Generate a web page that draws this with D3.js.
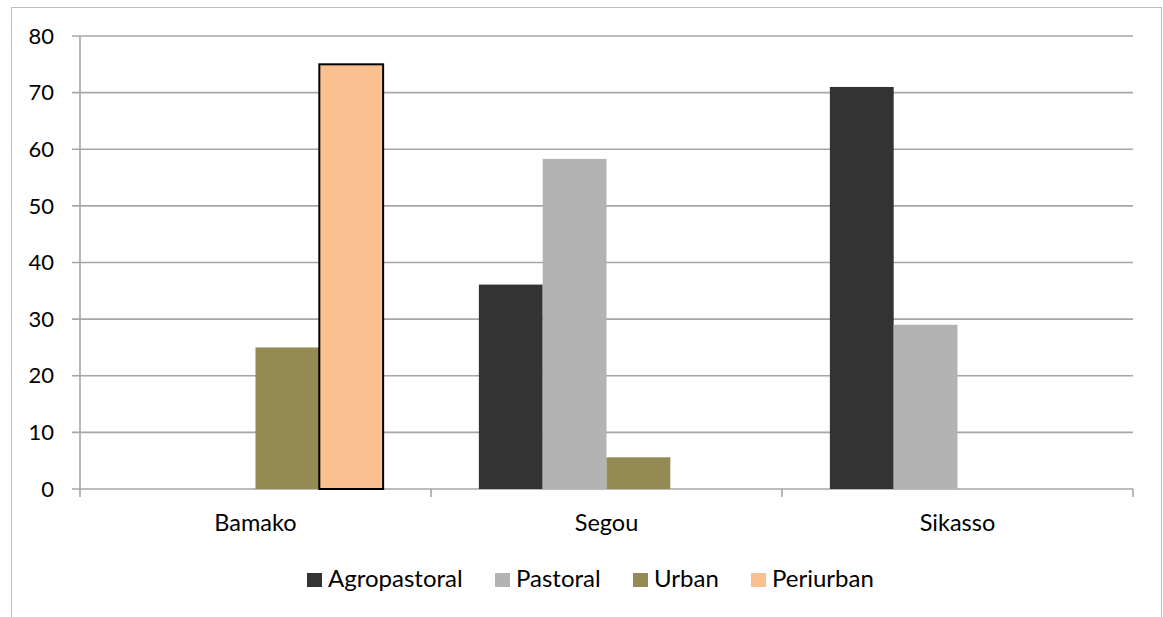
<!DOCTYPE html>
<html><head><meta charset="utf-8">
<script src="https://cdnjs.cloudflare.com/ajax/libs/d3/7.8.5/d3.min.js"></script>
<style>html,body{margin:0;padding:0;background:#fff;}svg{display:block;}</style>
</head><body>
<svg id="c" width="1163" height="617"></svg>
<script>
const categories = ["Bamako", "Segou", "Sikasso"];
const seriesNames = ["Agropastoral", "Pastoral", "Urban", "Periurban"];
const agropastoral = [0, 36.1, 71];
const pastoral = [0, 58.3, 29];
const urban = [25, 5.6, 0];
const periurban = [75, 0, 0];
const yTicks = [0, 10, 20, 30, 40, 50, 60, 70, 80];
const colors = ["#333333", "#b3b3b3", "#948a54", "#fac090"];

(function () {
const seriesValues = [agropastoral, pastoral, urban, periurban];
const svg = d3.select("#c");
const font = "Lato, 'Open Sans', sans-serif";

// outer frame
svg.append("rect").attr("x", 11.5).attr("y", 7.5).attr("width", 1150).attr("height", 640)
  .attr("fill", "none").attr("stroke", "#bdbdbd").attr("stroke-width", 1);

const pLeft = 80, pRight = 1133, pTop = 36, pBottom = 489;
const x0 = d3.scaleBand().domain(categories).range([pLeft, pRight]).paddingInner(0).paddingOuter(0);
const x1 = d3.scaleBand().domain(seriesNames).range([0, x0.bandwidth()]).paddingOuter(0.75).paddingInner(0);
const y = d3.scaleLinear().domain([0, 80]).range([pBottom, pTop]);

// gridlines
svg.append("g").selectAll("line").data(yTicks).join("line")
  .attr("x1", pLeft - 8).attr("x2", pRight)
  .attr("y1", d => y(d)).attr("y2", d => y(d))
  .attr("stroke", "#a6a6a6").attr("stroke-width", 1.6);

// y axis line
svg.append("line").attr("x1", pLeft).attr("x2", pLeft).attr("y1", pTop).attr("y2", pBottom)
  .attr("stroke", "#a6a6a6").attr("stroke-width", 1.6);

// category ticks
const catEdges = categories.map(c => x0(c)).concat([pRight]);
svg.append("g").selectAll("line").data(catEdges).join("line")
  .attr("x1", d => d).attr("x2", d => d).attr("y1", pBottom).attr("y2", pBottom + 8)
  .attr("stroke", "#a6a6a6").attr("stroke-width", 1.6);

// y labels
svg.append("g").selectAll("text").data(yTicks).join("text")
  .attr("x", 54).attr("y", d => y(d)).attr("dy", "0.35em")
  .attr("text-anchor", "end").attr("font-family", font).attr("font-size", 22)
  .attr("fill", "#000").text(d => d);

// bars
const barData = [];
seriesNames.forEach((s, si) => categories.forEach((c, ci) => {
  if (seriesValues[si][ci] > 0) barData.push({s, si, c, v: seriesValues[si][ci]});
}));
svg.append("g").selectAll("rect").data(barData).join("rect")
  .attr("x", d => x0(d.c) + x1(d.s))
  .attr("width", x1.bandwidth())
  .attr("y", d => y(d.v))
  .attr("height", d => y(0) - y(d.v))
  .attr("fill", d => colors[d.si])
  .attr("stroke", d => d.si === 3 ? "#000" : "none")
  .attr("stroke-width", d => d.si === 3 ? 2 : 0);

// x labels
svg.append("g").selectAll("text").data(categories).join("text")
  .attr("x", d => x0(d) + x0.bandwidth() / 2).attr("y", 523).attr("dy", "0.35em")
  .attr("text-anchor", "middle").attr("font-family", font).attr("font-size", 23.5)
  .attr("fill", "#000").text(d => d);

// legend
const legX = [307, 495, 633, 751];
const leg = svg.append("g").selectAll("g").data(seriesNames).join("g")
  .attr("transform", (d, i) => `translate(${legX[i]},580)`);
leg.append("rect").attr("x", 0).attr("y", -7).attr("width", 15).attr("height", 14)
  .attr("fill", (d, i) => colors[i]);
leg.append("text").attr("x", 21).attr("y", -1).attr("dy", "0.35em")
  .attr("font-family", font).attr("font-size", 24).attr("fill", "#000").text(d => d);
})();
</script>
</body></html>
